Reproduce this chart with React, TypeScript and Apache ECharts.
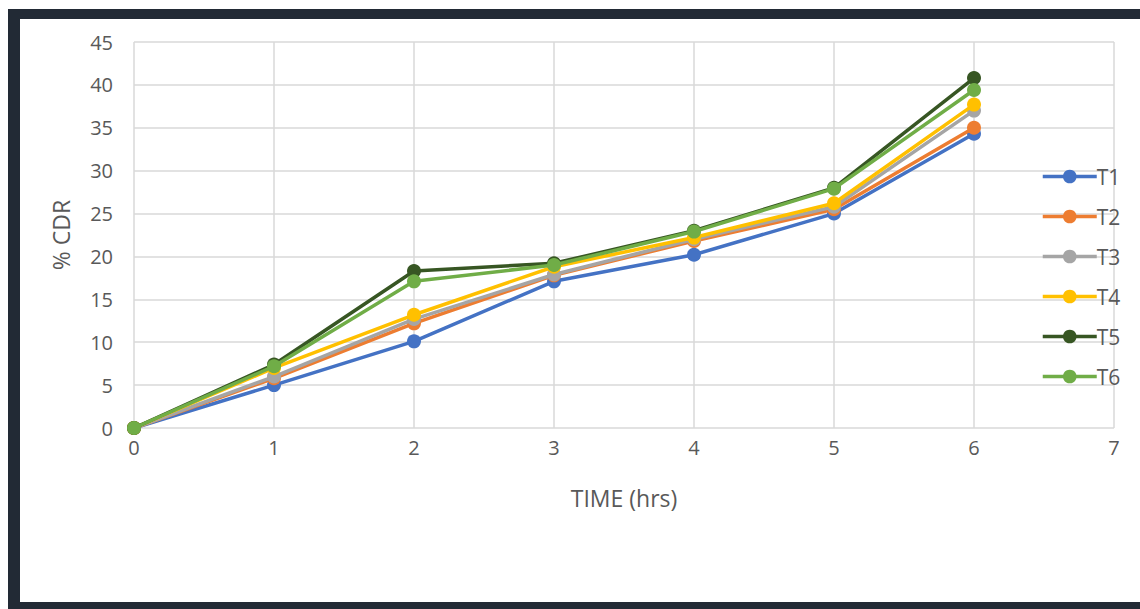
import React, { useEffect, useRef } from "react";
import * as echarts from "echarts";

const times = [0, 1, 2, 3, 4, 5, 6];
const seriesNames = ["T1", "T2", "T3", "T4", "T5", "T6"];
const t1 = [0, 5.0, 10.1, 17.1, 20.2, 25.0, 34.3];
const t2 = [0, 5.8, 12.2, 17.8, 21.8, 25.5, 35.0];
const t3 = [0, 6.0, 12.7, 17.9, 22.0, 25.8, 37.0];
const t4 = [0, 7.0, 13.2, 18.8, 22.2, 26.2, 37.7];
const t5 = [0, 7.4, 18.3, 19.2, 23.0, 28.0, 40.8];
const t6 = [0, 7.2, 17.1, 19.0, 22.9, 27.9, 39.4];
const allValues = [t1, t2, t3, t4, t5, t6];
const colors = ["#4472C4", "#ED7D31", "#A5A5A5", "#FFC000", "#375623", "#70AD47"];

export default function App() {
  const ref = useRef<HTMLDivElement>(null);
  useEffect(() => {
    if (!ref.current) return;
    const chart = echarts.init(ref.current, null, { renderer: "svg" });
    const font = "'Open Sans', sans-serif";
    chart.setOption({
      animation: false,
      backgroundColor: "#ffffff",
      textStyle: { fontFamily: font },
      graphic: [
        { type: "rect", shape: { x: 8, y: 9, width: 1132, height: 10 }, style: { fill: "#222a35" } },
        { type: "rect", shape: { x: 8, y: 9, width: 12, height: 600 }, style: { fill: "#222a35" } },
        { type: "rect", shape: { x: 8, y: 602, width: 1132, height: 7 }, style: { fill: "#222a35" } },
      ],
      grid: { left: 134, right: 26, top: 42, bottom: 181 },
      legend: {
        orient: "vertical",
        left: 1036,
        top: 161,
        itemWidth: 54,
        itemHeight: 17,
        itemGap: 19,
        data: seriesNames,
        lineStyle: { width: 3.5 },
        textStyle: { fontSize: 21, color: "#595959", fontFamily: font, padding: [0, 0, 0, -5] },
      },
      xAxis: {
        type: "value",
        min: 0,
        max: 7,
        interval: 1,
        name: "TIME (hrs)",
        nameLocation: "middle",
        nameGap: 58,
        nameTextStyle: { fontSize: 23, color: "#595959", fontFamily: font },
        axisLine: { show: false },
        axisTick: { show: false },
        axisLabel: { fontSize: 20, color: "#595959", margin: 9, fontFamily: font },
        splitLine: { show: true, lineStyle: { color: "#d9d9d9", width: 1.5 } },
      },
      yAxis: {
        type: "value",
        min: 0,
        max: 45,
        interval: 5,
        name: "% CDR",
        nameLocation: "middle",
        nameGap: 62,
        nameRotate: 90,
        nameTextStyle: { fontSize: 23, color: "#595959", fontFamily: font },
        axisLine: { show: false },
        axisTick: { show: false },
        axisLabel: { fontSize: 20, color: "#595959", margin: 21, fontFamily: font },
        splitLine: { show: true, lineStyle: { color: "#d9d9d9", width: 1.5 } },
      },
      series: seriesNames.map((name, i) => ({
        name,
        type: "line",
        data: times.map((t, j) => [t, allValues[i][j]]),
        symbol: "circle",
        symbolSize: 14,
        color: colors[i],
        lineStyle: { width: 3.5, color: colors[i] },
        itemStyle: { color: colors[i] },
        z: 2 + i,
      })),
    });
    return () => chart.dispose();
  }, []);
  return (
    <div style={{ position: "absolute", left: 0, top: 0, width: 1140, height: 609, background: "#fff" }}>
      <div ref={ref} style={{ width: 1140, height: 609 }} />
    </div>
  );
}
